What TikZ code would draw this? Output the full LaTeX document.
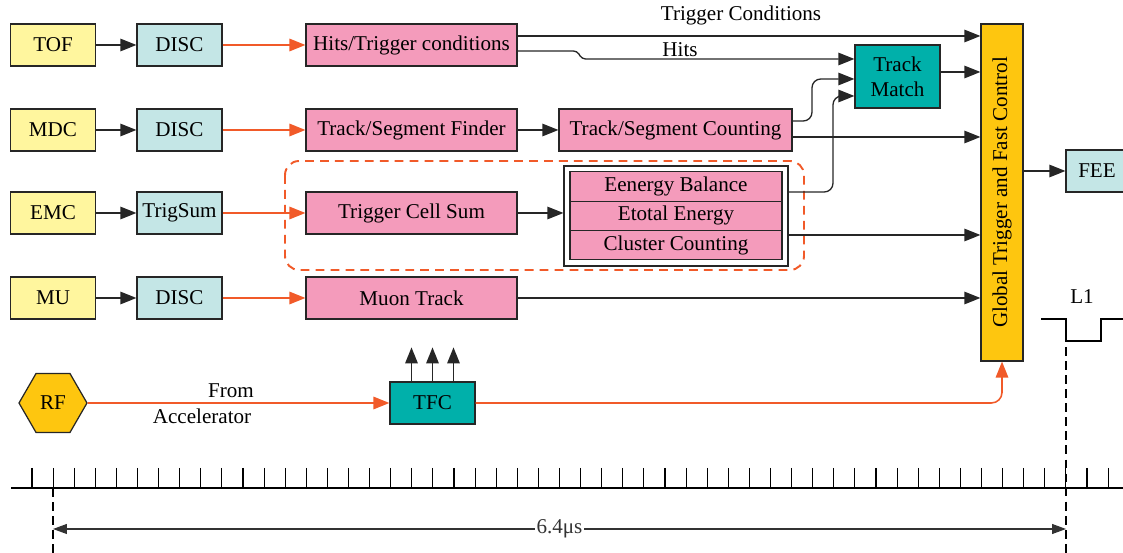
\documentclass[tikz,border=0pt]{standalone}
\usepackage{fontspec}
\setmainfont{Liberation Serif}
\usetikzlibrary{arrows.meta,shapes.geometric}

\definecolor{detyellow}{RGB}{255,246,158}
\definecolor{disccyan}{RGB}{196,230,230}
\definecolor{procpink}{RGB}{244,155,187}
\definecolor{matchteal}{RGB}{0,176,170}
\definecolor{gtgold}{RGB}{254,198,15}
\definecolor{clkorange}{RGB}{241,90,41}

\tikzset{
  every node/.style={font=\rmfamily\fontsize{12}{14}\selectfont},
  blk/.style={draw=black!85, line width=0.7pt, inner sep=0pt, align=center},
  detbox/.style={blk, fill=detyellow, minimum width=1.7cm, minimum height=0.84cm},
  discbox/.style={blk, fill=disccyan, minimum width=1.7cm, minimum height=0.84cm},
  procbox/.style={blk, fill=procpink, minimum width=4.22cm, minimum height=0.84cm},
  rowbox/.style={blk, fill=procpink, minimum width=4.24cm, minimum height=0.586cm},
  tealbox/.style={blk, fill=matchteal},
  sig/.style={draw=black!85, line width=0.75pt, -{Triangle[length=3.2mm,width=2.5mm]}},
  clk/.style={draw=clkorange, line width=0.9pt, -{Triangle[length=3.2mm,width=2.5mm]}},
  tmark/.style={line width=0.9pt, dash pattern=on 5pt off 3pt},
}

\begin{document}
\begin{tikzpicture}[x=0.02cm, y=-0.02cm]
\useasboundingbox (0,0) rectangle (1123,553);

% detectors and discriminators
\node[detbox] (tof) at (53,45) {TOF};
\node[discbox] (disc1) at (179.5,45) {DISC};
\node[procbox] (hits) at (411.5,45) {Hits/Trigger conditions};

\node[detbox] (mdc) at (53,130) {MDC};
\node[discbox] (disc2) at (179.5,130) {DISC};
\node[procbox] (tsfind) at (411.5,130) {Track/Segment Finder};
\node[procbox, minimum width=4.66cm] (tscount) at (675.5,130) {Track/Segment Counting};

\node[detbox] (emc) at (53,213) {EMC};
\node[discbox] (trigsum) at (179.5,213) {TrigSum};
\node[procbox] (cellsum) at (411.5,213) {Trigger Cell Sum};

\node[detbox] (mu) at (53,298) {MU};
\node[discbox] (disc4) at (179.5,298) {DISC};
\node[procbox] (muon) at (411.5,298) {Muon Track};

% EMC group
\draw[clkorange, line width=1.1pt, dash pattern=on 5pt off 3.5pt, rounded corners=8pt] (285,161) rectangle (804,270);
\node[blk, fill=white, minimum width=4.48cm, minimum height=2cm] (emcgrp) at (676,216) {};
\node[rowbox] (ebal) at (676,186.5) {Eenergy Balance};
\node[rowbox] (etot) at (676,215.8) {Etotal Energy};
\node[rowbox] (clus) at (676,245.1) {Cluster Counting};

\node[tealbox, minimum width=1.7cm, minimum height=1.26cm] (match) at (897.5,76.5) {Track\\Match};
\node[blk, fill=gtgold, minimum width=0.84cm, minimum height=6.74cm] (global) at (1002,192.5) {};
\node[rotate=90] (gtext) at (global.center) {Global Trigger and Fast Control};
\node[discbox, minimum width=1.24cm] (fee) at (1097,171) {FEE};

\node[blk, fill=gtgold, regular polygon, regular polygon sides=6, minimum size=1.36cm] (rf) at (53,403) {RF};
\node[tealbox, minimum width=1.7cm, minimum height=0.84cm] (tfc) at (432.5,403) {TFC};

% labels
\node (lbltc) at (741,15) {Trigger Conditions};
\node (lblhits) at (680,50) {Hits};
\node (lblfrom) at (231,391) {From};
\node (lblacc) at (202,416) {Accelerator};
\node (lbll1) at (1082,297) {L1};

% connectors
\draw[sig] (tof) -- (disc1);
\draw[sig] (mdc) -- (disc2);
\draw[sig] (emc) -- (trigsum);
\draw[sig] (mu) -- (disc4);
\draw[clk] (disc1) -- (hits);
\draw[clk] (disc2) -- (tsfind);
\draw[clk] (trigsum) -- (cellsum);
\draw[clk] (disc4) -- (muon);
\draw[sig] (tsfind) -- (tscount);
\draw[sig] (cellsum.east) -- (cellsum.east -| emcgrp.west);

\draw[sig] (hits.east |- 0,36) -- (global.west |- 0,36);
\draw[sig, rounded corners=2pt] (hits.east |- 0,51) -- (577,51) -- (582,59) -- (match.west |- 0,59);
\draw[sig, rounded corners=5pt] (tscount.east |- 0,121) -- (812,121) -- (812,79) -- (match.west |- 0,79);
\draw[sig, rounded corners=5pt] (emcgrp.east |- 0,192) -- (833,192) -- (833,96) -- (match.west |- 0,96);
\draw[sig] (match.east |- 0,72) -- (global.west |- 0,72);
\draw[sig] (tscount.east |- 0,137) -- (global.west |- 0,137);
\draw[sig] (emcgrp.east |- 0,235) -- (global.west |- 0,235);
\draw[sig] (muon.east) -- (global.west |- muon.east);
\draw[sig] (global.east |- fee.west) -- (fee.west);

\draw[clk] (rf) -- (tfc);
\draw[clk, rounded corners=6pt] (tfc.east) -| (global.south);
\foreach \dx in {-21,0,21}
  \draw[sig] ([xshift=\dx*0.02cm]tfc.north) -- ++(0,-34);

% clock and L1
\draw[line width=0.7pt] (11,488) -- (1123,488);
\foreach \k in {0,...,51}
  \draw[line width=0.6pt] (32+21.1*\k,468) -- (32+21.1*\k,488);
\draw[line width=0.8pt] (1041,319) -- (1066,319) -- (1066,341) -- (1101,341) -- (1101,319) -- (1130,319);
\coordinate (start) at (53,488);
\coordinate (l1) at (1066,319);
\draw[tmark] (start) -- (start |- 0,553);
\draw[tmark] (l1) -- (l1 |- 0,553);
\coordinate (dimL) at (53,529);
\coordinate (dimR) at (1066,529);
\draw[black!80, line width=0.6pt, {Triangle[length=2.8mm,width=2mm]}-{Triangle[length=2.8mm,width=2mm]}] (dimL) -- node[fill=white, inner sep=1pt] (dimlbl) {6.4μs} (dimR);
\end{tikzpicture}
\end{document}
